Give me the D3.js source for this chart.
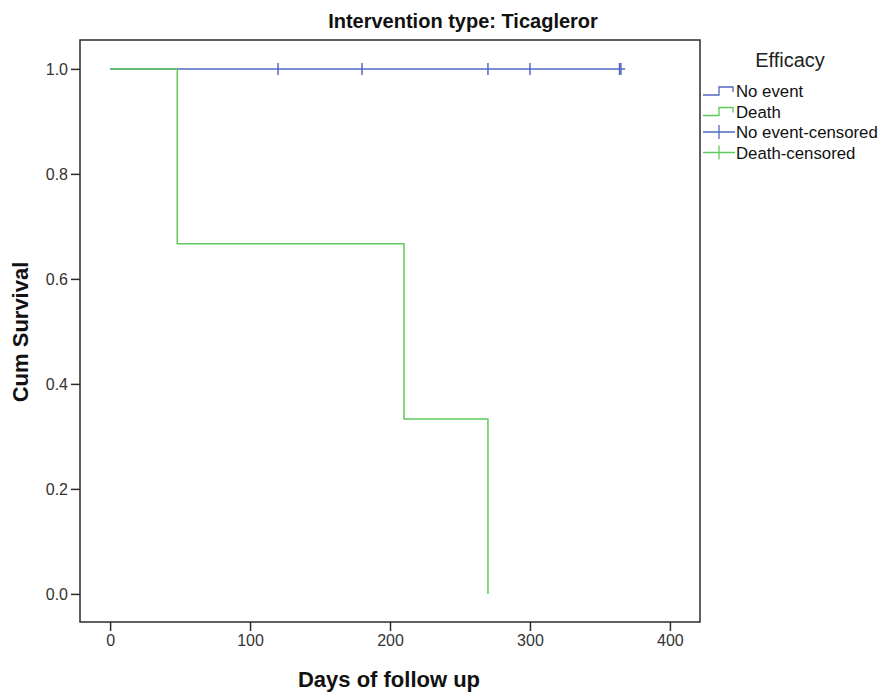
<!DOCTYPE html>
<html>
<head>
<meta charset="utf-8">
<script src="https://cdn.jsdelivr.net/npm/d3@7"></script>
<style>
body{margin:0;background:#fff;}
text{font-family:"Liberation Sans",Arial,sans-serif;}
</style>
</head>
<body>
<script>
// survival steps: [time, cum survival]
var deathSteps=[[0,1.0],[48,1.0],[48,0.667],[210,0.667],[210,0.333],[270,0.333],[270,0.0]];
var noEventSteps=[[0,1.0],[368,1.0]];
var noEventCensored=[120,180,270,300,364,365];
var xTicks=[0,100,200,300,400];
var yTicks=[0.0,0.2,0.4,0.6,0.8,1.0];
var legendLabels=['No event','Death','No event-censored','Death-censored'];

var blue='#5268c0';
var green='#5ccb5c';

var width=882,height=693;
var plotLeft=80,plotTop=40,plotRight=700,plotBottom=622;

var svg=d3.select('body').append('svg')
.attr('width',width)
.attr('height',height);

var x=d3.scaleLinear().domain([-21.5,421.5]).range([plotLeft,plotRight]);
var y=d3.scaleLinear().domain([-0.0535,1.055]).range([plotBottom,plotTop]);

// frame
svg.append('rect')
.attr('x',plotLeft).attr('y',plotTop)
.attr('width',plotRight-plotLeft).attr('height',plotBottom-plotTop)
.attr('fill','none').attr('stroke','#2b2b2b').attr('stroke-width',1.5);

var xAxis=svg.append('g')
.attr('transform','translate(0,'+plotBottom+')')
.call(d3.axisBottom(x).tickValues(xTicks).tickSize(9).tickPadding(4).tickFormat(d3.format('d')));
var yAxis=svg.append('g')
.attr('transform','translate('+plotLeft+',0)')
.call(d3.axisLeft(y).tickValues(yTicks).tickSize(9).tickPadding(3).tickFormat(d3.format('.1f')));
[xAxis,yAxis].forEach(function(a){
    a.select('.domain').remove();
    a.selectAll('line').attr('stroke','#2b2b2b').attr('stroke-width',1.5);
    a.selectAll('text').attr('font-size',16).attr('fill','#333').style('font-family','"Liberation Sans",Arial,sans-serif');
});

var line=d3.line().x(d=>x(d[0])).y(d=>y(d[1]));

svg.append('path').datum(noEventSteps)
.attr('d',line).attr('fill','none').attr('stroke',blue).attr('stroke-width',1.5);

svg.selectAll('.cens').data(noEventCensored).enter()
.append('line').attr('class','cens')
.attr('x1',d=>x(d)).attr('x2',d=>x(d))
.attr('y1',y(1)-6).attr('y2',y(1)+6)
.attr('stroke',blue).attr('stroke-width',1.5);

svg.append('path').datum(deathSteps)
.attr('d',line).attr('fill','none').attr('stroke',green).attr('stroke-width',1.5);

// title
svg.append('text')
.attr('x',463).attr('y',28)
.attr('text-anchor','middle')
.attr('font-size',20).attr('font-weight','bold').attr('fill','#111')
.text('Intervention type: Ticagleror');

svg.append('text')
.attr('x',389).attr('y',687)
.attr('text-anchor','middle')
.attr('font-size',22).attr('font-weight','bold').attr('fill','#111')
.text('Days of follow up');

svg.append('text')
.attr('transform','translate(28,332) rotate(-90)')
.attr('text-anchor','middle')
.attr('font-size',22).attr('font-weight','bold').attr('fill','#111')
.text('Cum Survival');

// legend
var legend=svg.append('g');
legend.append('text')
.attr('x',790).attr('y',67)
.attr('text-anchor','middle')
.attr('font-size',20).attr('fill','#222')
.text('Efficacy');

var legendColors=[blue,green,blue,green];
var items=legend.selectAll('.item').data(legendLabels).enter()
.append('g').attr('class','item')
.attr('transform',(d,i)=>'translate(703,'+(91+i*20.5)+')');
items.append('path')
.attr('d',(d,i)=>i<2?'M0,4H16V-4H30V1':'M0,0H32M16,-7V7')
.attr('fill','none')
.attr('stroke',(d,i)=>legendColors[i])
.attr('stroke-width',1.3);
items.append('text')
.attr('x',33).attr('y',6)
.attr('font-size',16.8).attr('fill','#111')
.text(d=>d);
</script>
</body>
</html>
